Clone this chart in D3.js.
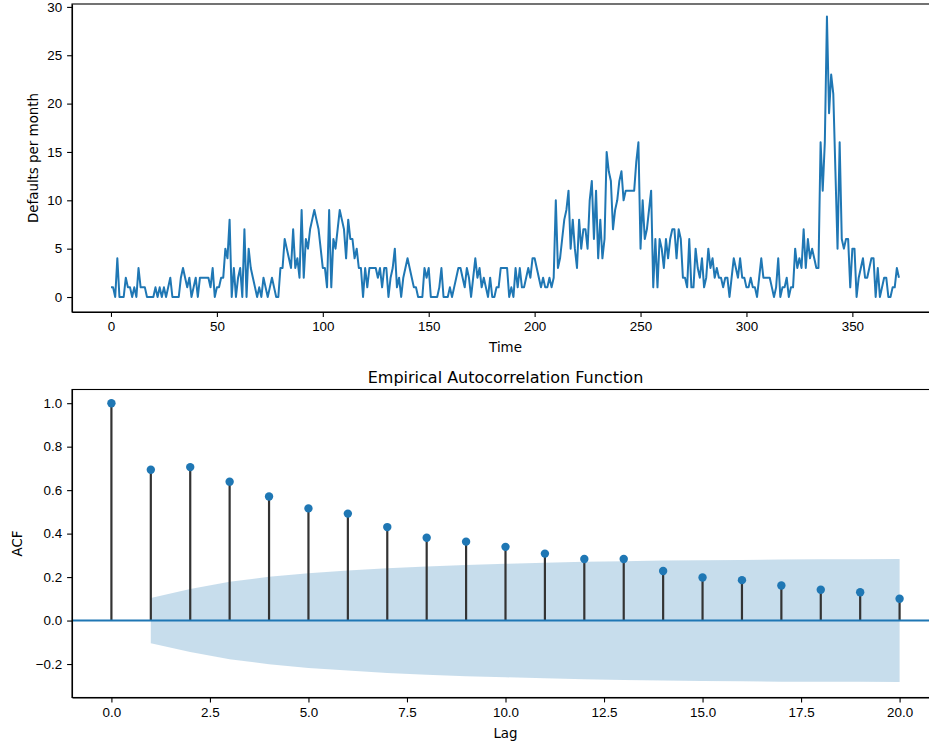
<!DOCTYPE html>
<html><head><meta charset="utf-8">
<script src="https://cdn.jsdelivr.net/npm/d3@7"></script>
<style>
body{margin:0;background:#fff;}
svg{display:block;font-family:"DejaVu Sans",sans-serif;}
.tick text{font-size:13.4px;fill:#000;}
.domain,.tick line{stroke:#000;stroke-width:1.1;}
</style></head>
<body>
<svg id="c" width="929" height="742"></svg>
<script>
// Monthly defaults series (index 0..372)
const defaults = [
1,1,0,4,0,0,0,2,1,1,
0,1,0,3,1,1,1,0,0,0,
0,1,0,1,0,1,0,1,2,0,
0,0,0,2,3,2,1,2,0,1,
2,0,2,2,2,2,2,1,3,0,
1,1,2,2,5,4,8,0,3,0,
2,3,0,7,0,5,3,2,1,0,
1,0,2,1,0,1,2,1,0,0,
3,3,6,5,4,3,7,3,4,2,
9,2,6,5,7,8,9,8,7,5,
3,3,1,9,1,6,5,7,9,8,
7,4,8,6,6,4,5,3,3,0,
3,1,3,3,3,3,2,3,1,3,
3,0,2,3,5,1,2,0,2,3,
4,3,2,1,1,0,0,0,3,2,
3,0,0,0,0,1,3,0,0,0,
1,0,1,2,3,3,2,1,3,2,
0,2,4,2,3,1,2,1,0,2,
0,0,1,1,3,3,3,3,0,1,
0,3,1,3,1,1,2,3,2,4,
4,3,2,1,2,1,1,2,1,2,
10,3,4,6,8,9,11,5,8,5,
3,8,5,7,7,5,10,12,6,11,
4,8,4,6,15,13,12,7,9,10,
12,13,10,11,11,11,11,11,14,16,
5,10,6,7,9,11,1,6,1,6,
5,3,6,4,6,7,7,4,7,6,
2,2,1,6,1,1,5,3,2,4,
1,2,5,3,4,2,3,2,2,1,
2,2,0,2,4,3,2,4,2,2,
1,1,2,1,1,0,2,4,2,2,
2,2,1,0,1,4,0,1,1,2,
0,1,1,5,3,4,3,7,3,6,
4,5,4,3,3,16,11,16,29,19,
23,21,13,5,16,6,5,6,6,1,
5,5,0,2,3,4,2,2,3,4,
4,0,3,0,1,2,2,0,0,1,
1,3,2
];
const lags = d3.range(0, 21);
const acfValues = [1.0,0.694,0.706,0.639,0.571,0.516,0.492,0.430,0.381,0.363,0.339,0.308,0.283,0.283,0.228,0.198,0.186,0.161,0.142,0.130,0.100];
const bandLags = d3.range(1, 21);
const bandHalfWidth = [0.104,0.145,0.178,0.201,0.218,0.230,0.241,0.249,0.256,0.261,0.266,0.270,0.273,0.276,0.278,0.279,0.281,0.282,0.282,0.283];
const timeTicks = [0,50,100,150,200,250,300,350];
const defaultTicks = [0,5,10,15,20,25,30];
const lagTicks = [0,2.5,5,7.5,10,12.5,15,17.5,20];
const acfTicks = [-0.2,0,0.2,0.4,0.6,0.8,1.0];

const C0 = "#1f77b4";
const svg = d3.select("#c");
const fmtMinus = s => s.replace("-", "\u2212");
const TS = 4.9, TP = 4.9;

// ---------- Top: time series ----------
const boxTop = {l:72, r:939, t:4, b:312};
const x1 = d3.scaleLinear().domain([-18.4, 390.9]).range([boxTop.l, boxTop.r]);
const y1 = d3.scaleLinear().domain([-1.55, 30.3]).range([boxTop.b, boxTop.t]);
const g1 = svg.append("g");
g1.append("path").datum(defaults)
  .attr("fill","none").attr("stroke",C0).attr("stroke-width",2)
  .attr("stroke-linejoin","round")
  .attr("d", d3.line().x((d,i)=>x1(i)).y(d=>y1(d)));
g1.append("g").attr("transform",`translate(0,${boxTop.b})`)
  .call(d3.axisBottom(x1).tickValues(timeTicks).tickSize(TS).tickSizeOuter(0).tickPadding(TP).tickFormat(d3.format("d")));
g1.append("g").attr("transform",`translate(${boxTop.l},0)`)
  .call(d3.axisLeft(y1).tickValues(defaultTicks).tickSize(TS).tickSizeOuter(0).tickPadding(TP).tickFormat(d3.format("d")));
g1.append("rect").attr("x",boxTop.l).attr("y",boxTop.t).attr("width",boxTop.r-boxTop.l).attr("height",boxTop.b-boxTop.t)
  .attr("fill","none").attr("stroke","#000").attr("stroke-width",1.1);
g1.append("text").attr("x",(boxTop.l+boxTop.r)/2).attr("y",352).attr("text-anchor","middle")
  .attr("font-size",13.4).text("Time");
g1.append("text").attr("transform",`translate(37.5,${(boxTop.t+boxTop.b)/2}) rotate(-90)`)
  .attr("text-anchor","middle").attr("font-size",13.4).text("Defaults per month");

// ---------- Bottom: ACF ----------
const boxBot = {l:72, r:939, t:389.5, b:697.5};
const x2 = d3.scaleLinear().domain([-1, 21]).range([boxBot.l, boxBot.r]);
const y2 = d3.scaleLinear().domain([-0.354, 1.063]).range([boxBot.b, boxBot.t]);
const g2 = svg.append("g");
g2.append("path").datum(bandLags.map((l,i)=>({l, h: bandHalfWidth[i]})))
  .attr("fill",C0).attr("fill-opacity",0.25)
  .attr("d", d3.area().x(d=>x2(d.l)).y0(d=>y2(-d.h)).y1(d=>y2(d.h)));
g2.selectAll("line.stem").data(lags).join("line").attr("class","stem")
  .attr("x1",d=>x2(d)).attr("x2",d=>x2(d))
  .attr("y1",y2(0)).attr("y2",d=>y2(acfValues[d]))
  .attr("stroke","#333").attr("stroke-width",2.2);
g2.append("line").attr("x1",boxBot.l).attr("x2",boxBot.r).attr("y1",y2(0)).attr("y2",y2(0))
  .attr("stroke",C0).attr("stroke-width",2);
g2.selectAll("circle").data(lags).join("circle")
  .attr("cx",d=>x2(d)).attr("cy",d=>y2(acfValues[d])).attr("r",4.2)
  .attr("fill",C0);
g2.append("g").attr("transform",`translate(0,${boxBot.b})`)
  .call(d3.axisBottom(x2).tickValues(lagTicks).tickSize(TS).tickSizeOuter(0).tickPadding(TP).tickFormat(d3.format(".1f")));
g2.append("g").attr("transform",`translate(${boxBot.l},0)`)
  .call(d3.axisLeft(y2).tickValues(acfTicks).tickSize(TS).tickSizeOuter(0).tickPadding(TP).tickFormat(d=>fmtMinus(d3.format(".1f")(d))));
g2.append("rect").attr("x",boxBot.l).attr("y",boxBot.t).attr("width",boxBot.r-boxBot.l).attr("height",boxBot.b-boxBot.t)
  .attr("fill","none").attr("stroke","#000").attr("stroke-width",1.1);
g2.append("text").attr("x",(boxBot.l+boxBot.r)/2).attr("y",383).attr("text-anchor","middle")
  .attr("font-size",16).text("Empirical Autocorrelation Function");
g2.append("text").attr("x",(boxBot.l+boxBot.r)/2).attr("y",738).attr("text-anchor","middle")
  .attr("font-size",13.4).text("Lag");
g2.append("text").attr("transform",`translate(22,${(boxBot.t+boxBot.b)/2}) rotate(-90)`)
  .attr("text-anchor","middle").attr("font-size",13.4).text("ACF");
</script>
</body></html>
